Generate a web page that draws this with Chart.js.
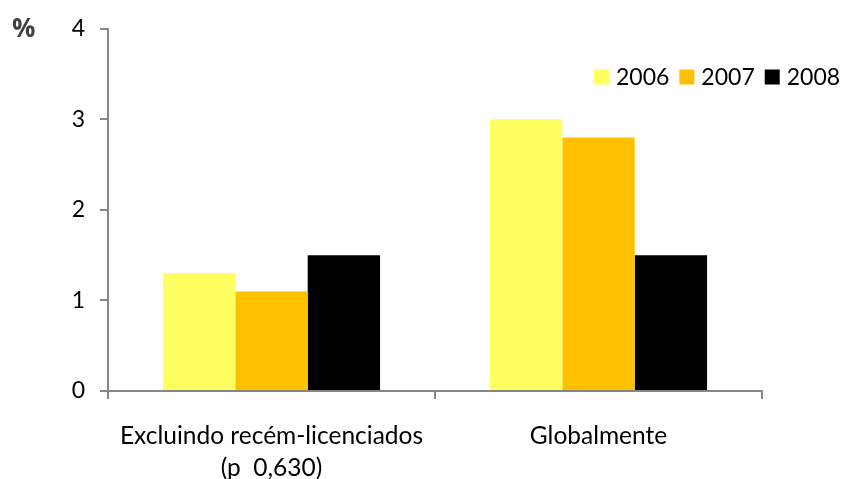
<!DOCTYPE html>
<html>
<head>
<meta charset="utf-8">
<script src="https://cdn.jsdelivr.net/npm/chart.js@4"></script>
<style>
  html, body { margin: 0; padding: 0; background: #fff; }
  #wrap { width: 857px; height: 479px; position: relative; }
</style>
</head>
<body>
<div id="wrap"><canvas id="chart"></canvas></div>
<script>
const categories = [["Excluindo recém-licenciados", "(p  0,630)"], "Globalmente"];
const years = ["2006", "2007", "2008"];
const values2006 = [1.3, 3.0];
const values2007 = [1.1, 2.8];
const values2008 = [1.5, 1.5];
const yTicks = [0, 1, 2, 3, 4];

const colors = ["#FFFF60", "#FFC000", "#000000"];
const axisGrey = "#868686";
const fontFamily = "Lato, 'Open Sans', sans-serif";

// legend drawn in the upper right, and the "%" unit above the y axis
const extras = {
  id: "extras",
  afterDraw(chart) {
    const ctx = chart.ctx;
    ctx.save();
    ctx.font = "bold 26px 'Open Sans', 'DejaVu Sans', sans-serif";
    ctx.fillStyle = "#404040";
    ctx.textBaseline = "middle";
    ctx.textAlign = "left";
    ctx.fillText("%", 12, 30);

    ctx.font = "23px " + fontFamily;
    let x = 594;
    const y = 77;
    chart.data.datasets.forEach(ds => {
      ctx.fillStyle = ds.backgroundColor;
      ctx.fillRect(x, y - 7.5, 15, 15);
      ctx.fillStyle = "#000";
      ctx.fillText(ds.label, x + 22, y + 1);
      x += 22 + ctx.measureText(ds.label).width + 10;
    });
    ctx.restore();
  }
};

new Chart(document.getElementById("chart"), {
  type: "bar",
  data: {
    labels: categories,
    datasets: [
      { label: years[0], data: values2006, backgroundColor: colors[0] },
      { label: years[1], data: values2007, backgroundColor: colors[1] },
      { label: years[2], data: values2008, backgroundColor: colors[2] }
    ]
  },
  options: {
    responsive: true,
    maintainAspectRatio: false,
    animation: false,
    datasets: { bar: { categoryPercentage: 0.664, barPercentage: 1.0 } },
    layout: { padding: { top: 26, right: 95, left: 0, bottom: 0 } },
    plugins: { legend: { display: false }, tooltip: { enabled: false } },
    scales: {
      x: {
        offset: true,
        grid: { display: true, drawOnChartArea: false, offset: true, tickLength: 8, color: axisGrey, lineWidth: 2 },
        border: { color: axisGrey, width: 2 },
        ticks: { color: "#000", font: { family: fontFamily, size: 24.5, lineHeight: 1.27 }, padding: 22, maxRotation: 0 },
        afterFit(s) { s.height = 88; }
      },
      y: {
        min: 0,
        max: 4,
        afterBuildTicks(s) { s.ticks = yTicks.map(v => ({ value: v })); },
        grid: { display: true, drawOnChartArea: false, tickLength: 8, color: axisGrey, lineWidth: 2 },
        border: { color: axisGrey, width: 2 },
        ticks: { color: "#000", font: { family: fontFamily, size: 23 }, padding: 15 },
        afterFit(s) { s.width = 108; }
      }
    }
  },
  plugins: [extras]
});
</script>
</body>
</html>
